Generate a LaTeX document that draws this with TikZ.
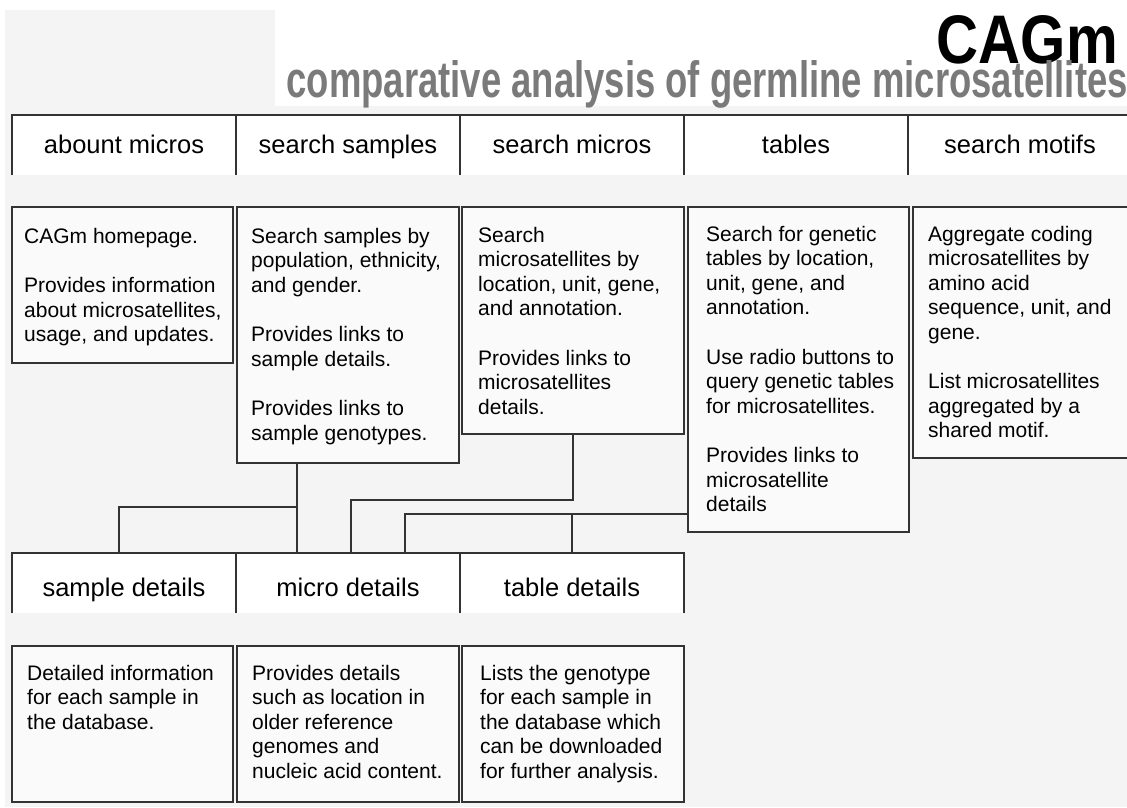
\documentclass[tikz,border=0pt]{standalone}
\usepackage{graphicx}
\usepackage{fontspec}
\setmainfont{Liberation Sans}
\usetikzlibrary{positioning, calc}
\definecolor{pagegrey}{HTML}{F4F4F4}
\definecolor{boxgrey}{HTML}{FAFAFA}
\definecolor{rulegrey}{HTML}{333333}
\definecolor{mottogrey}{HTML}{7A7A7A}

\begin{document}
\begin{tikzpicture}[x=1pt, y=-1pt,
        tab/.style={fill=white, minimum width=224, minimum height=60, inner sep=0, outer sep=0,
            text height=20pt, text depth=4pt, font=\fontsize{25.5}{29}\selectfont},
        lowtab/.style={tab, text height=30pt},
        card/.style={draw=rulegrey, fill=boxgrey, line width=1.4pt, anchor=north west, inner sep=0, outer sep=0},
        blurb/.style={anchor=north west, inner sep=0, align=left, font=\fontsize{21}{24.5}\selectfont},
        wire/.style={draw=rulegrey, line width=1.4pt, -}]
        \clip (0,0) rectangle (1127,807);
        \fill[white] (0,0) rectangle (1127,807);
        \fill[pagegrey] (5,10) rectangle (1127,807);
        \fill[white] (275,10) rectangle (1127,106);

        \node[anchor=base east, inner sep=0] at (1118,63) (logo) {\resizebox{181pt}{48pt}{\bfseries CAGm}};
        \node[anchor=base east, inner sep=0, text=mottogrey] at (1128,97) (motto) {\resizebox{841pt}{37pt}{\bfseries comparative analysis of germline microsatellites}};

        \node[tab] at (124,145) (about) {abount micros};
        \node[tab, right=0pt of about] (ssamp) {search samples};
        \node[tab, right=0pt of ssamp] (smicro) {search micros};
        \node[tab, right=0pt of smicro] (tables) {tables};
        \node[tab, right=0pt of tables] (smotif) {search motifs};
        \draw[wire] (about.south west) -- (about.north west) -- (smotif.north east);
        \foreach \t in {ssamp, smicro, tables, smotif}
            \draw[wire] (\t.north west) -- (\t.south west);

        \node[card, minimum width=221, minimum height=156] at (12,207) (home) {};
        \node[card, minimum width=222, minimum height=256] at (237,207) (sampbox) {};
        \node[card, minimum width=222, minimum height=227] at (462,207) (microbox) {};
        \node[card, minimum width=221, minimum height=325] at (688,207) (tablebox) {};
        \node[card, minimum width=240, minimum height=251] at (913,207) (motifbox) {};

        \node[blurb] at ([shift={(12,21)}]home.north west) (hometext) {CAGm homepage.\\[25pt]
            Provides information\\about microsatellites,\\usage, and updates.};
        \node[blurb] at ([shift={(14,21)}]sampbox.north west) (samptext) {Search samples by\\population, ethnicity,\\and gender.\\[25pt]
            Provides links to\\sample details.\\[25pt]Provides links to\\sample genotypes.};
        \node[blurb] at ([shift={(16,20)}]microbox.north west) (microtext) {Search\\microsatellites by\\location, unit, gene,\\and annotation.\\[25pt]
            Provides links to\\microsatellites\\details.};
        \node[blurb] at ([shift={(18,19)}]tablebox.north west) (tabletext) {Search for genetic\\tables by location,\\unit, gene, and\\annotation.\\[25pt]
            Use radio buttons to\\query genetic tables\\for microsatellites.\\[25pt]Provides links to\\microsatellite\\details};
        \node[blurb] at ([shift={(15,19)}]motifbox.north west) (motiftext) {Aggregate coding\\microsatellites by\\amino acid\\sequence, unit, and\\gene.\\[25pt]
            List microsatellites\\aggregated by a\\shared motif.};

        \node[lowtab] at (124,583) (sdet) {sample details};
        \node[lowtab, right=0pt of sdet] (mdet) {micro details};
        \node[lowtab, right=0pt of mdet] (tdet) {table details};
        \draw[wire] (sdet.south west) -- (sdet.north west) -- (tdet.north east) -- (tdet.south east);
        \foreach \t in {mdet, tdet}
            \draw[wire] (\t.north west) -- (\t.south west);

        \node[card, minimum width=221, minimum height=156] at (12,646) (sampinfo) {};
        \node[card, minimum width=222, minimum height=156] at (237,646) (microinfo) {};
        \node[card, minimum width=222, minimum height=156] at (462,646) (tableinfo) {};
        \node[blurb] at ([shift={(15,19)}]sampinfo.north west) (sampinfotext) {Detailed information\\for each sample in\\the database.};
        \node[blurb] at ([shift={(15,19)}]microinfo.north west) (microinfotext) {Provides details\\such as location in\\older reference\\genomes and\\nucleic acid content.};
        \node[blurb] at ([shift={(18,19)}]tableinfo.north west) (tableinfotext) {Lists the genotype\\for each sample in\\the database which\\can be downloaded\\for further analysis.};

        \coordinate (fork) at (297,507);
        \coordinate (bend) at (351,500);
        \coordinate (elbow) at (405,514);
        \draw[wire] (sampbox.south -| fork) -- (mdet.north -| fork);
        \draw[wire] (fork) -| ([xshift=-5]sdet.north);
        \draw[wire] (microbox.south) |- (bend) -- (bend |- mdet.north);
        \draw[wire] (tablebox.west |- elbow) -- (elbow) -- (elbow |- mdet.north);
        \draw[wire] (tdet.north |- elbow) -- (tdet.north);
    \end{tikzpicture}
\end{document}
